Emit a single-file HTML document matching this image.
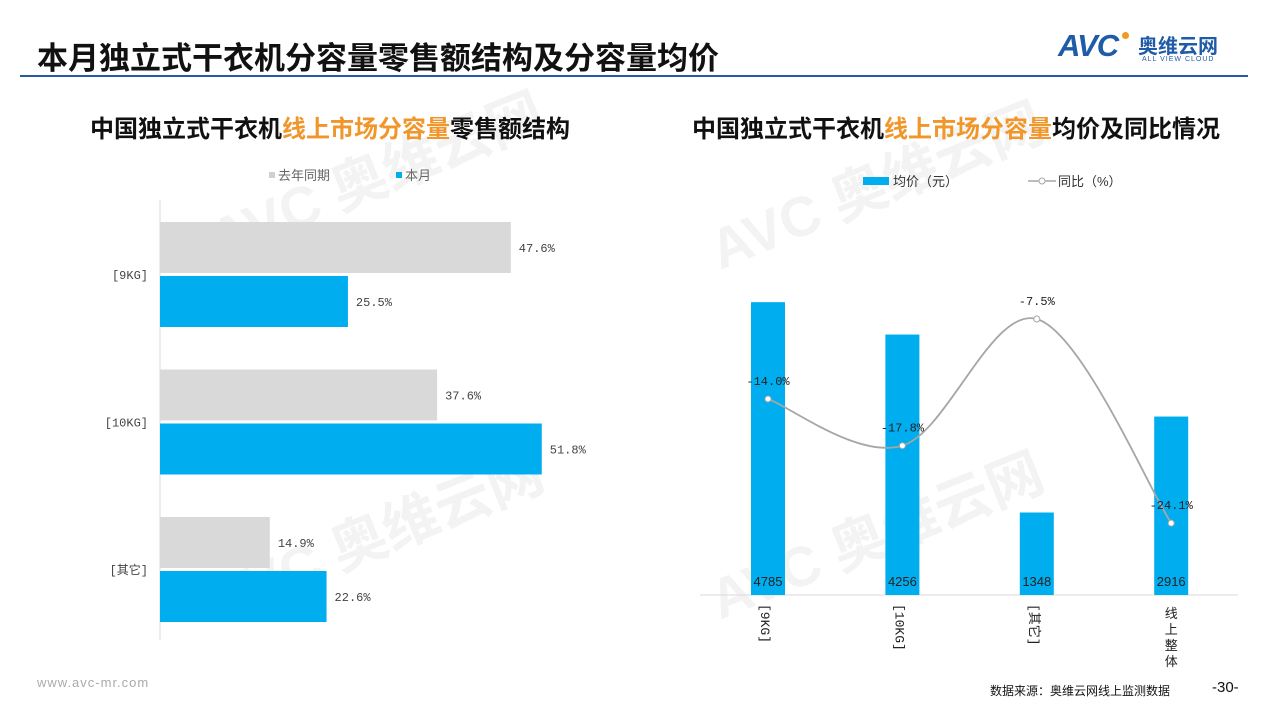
<!DOCTYPE html>
<html><head><meta charset="utf-8">
<style>
body{margin:0;width:1280px;height:720px;background:#fff;overflow:hidden;font-family:"Liberation Sans","Noto Sans CJK SC",sans-serif;position:relative}
.abs{position:absolute;z-index:2}
</style></head><body>
<div class="abs" style="left:37px;top:33px;font-size:31px;font-weight:bold;color:#111;white-space:nowrap">本月独立式干衣机分容量零售额结构及分容量均价</div>
<div class="abs" style="left:20px;top:75px;width:1228px;height:2px;background:#1f5ba6"></div>
<div class="abs" style="left:1058px;top:28px;width:190px;height:40px">
  <span style="position:absolute;left:0;top:0;font-size:31px;font-weight:bold;font-style:italic;color:#1f5ba6;letter-spacing:-1px">AVC</span><span style="position:absolute;left:64px;top:4px;width:7px;height:7px;border-radius:50%;background:#f39a1e"></span>
  <span style="position:absolute;left:80px;top:2px;font-size:20px;font-weight:bold;color:#1f5ba6;white-space:nowrap">奥维云网</span>
  <span style="position:absolute;left:84px;top:28px;font-size:7px;color:#1f5ba6;white-space:nowrap;letter-spacing:1px">ALL VIEW CLOUD</span>
</div>
<div class="abs" style="left:90px;top:109px;font-size:24px;font-weight:bold;color:#111;white-space:nowrap">中国独立式干衣机<span style="color:#f0962a">线上市场分容量</span>零售额结构</div>
<div class="abs" style="left:692px;top:109px;font-size:24px;font-weight:bold;color:#111;white-space:nowrap">中国独立式干衣机<span style="color:#f0962a">线上市场分容量</span>均价及同比情况</div>
<div class="abs" style="left:37px;top:675px;font-size:13px;color:#aaa;letter-spacing:1px">www.avc-mr.com</div>
<div class="abs" style="left:990px;top:682px;font-size:12px;color:#111">数据来源：奥维云网线上监测数据</div>
<div class="abs" style="left:1212px;top:679px;font-size:15px;color:#111">-30-</div>

<svg style="position:absolute;left:0;top:0;z-index:1" width="1280" height="720" id="chart">
  <g fill="#f3f3f3" font-weight="bold">
    <text x="220" y="260" font-size="56" transform="rotate(-22 220 260)">AVC 奥维云网</text>
    <text x="220" y="620" font-size="56" transform="rotate(-22 220 620)">AVC 奥维云网</text>
    <text x="720" y="270" font-size="56" transform="rotate(-22 720 270)">AVC 奥维云网</text>
    <text x="720" y="620" font-size="56" transform="rotate(-22 720 620)">AVC 奥维云网</text>
  </g>
</svg>
<script>
const leftCats=["[9KG]","[10KG]","[其它]"];
const lastYear=[47.6,37.6,14.9];
const thisMonth=[25.5,51.8,22.6];
const rightCats=["[9KG]","[10KG]","[其它]","线上整体"];
const avgPrice=[4785,4256,1348,2916];
const yoy=[-14.0,-17.8,-7.5,-24.1];

const NS="http://www.w3.org/2000/svg";
const svg=document.getElementById('chart');
function mk(t,a,p){const e=document.createElementNS(NS,t);for(const k in a)e.setAttribute(k,a[k]);(p||svg).appendChild(e);return e;}

// left chart
const lx=v=>160+v*7.37;
const groupTop=i=>222+i*147.5;
let ax=mk('line',{x1:160,y1:200,x2:160,y2:640,stroke:'#d9d9d9'});


let lg1=mk('rect',{x:269,y:172,width:6,height:6,fill:'#d0d0d0'});


let lt1=mk('text',{x:278,y:180,'font-size':13,fill:'#666'});lt1.textContent='去年同期';


let lg2=mk('rect',{x:396,y:172,width:6,height:6,fill:'#00aeef'});


let lt2=mk('text',{x:405,y:180,'font-size':13,fill:'#666'});lt2.textContent='本月';


leftCats.forEach((c,i)=>{
  const t=groupTop(i);
  let b1=mk('rect',{x:160,y:t,width:lx(lastYear[i])-160,height:51,fill:'#d9d9d9'});
  
  
  let v1=mk('text',{x:lx(lastYear[i])+8,y:t+30,'font-size':12,fill:'#444','font-family':'Liberation Mono, monospace'});v1.textContent=lastYear[i].toFixed(1)+'%';
  
  
  let b2=mk('rect',{x:160,y:t+54,width:lx(thisMonth[i])-160,height:51,fill:'#00aeef'});
  
  
  let v2=mk('text',{x:lx(thisMonth[i])+8,y:t+84,'font-size':12,fill:'#444','font-family':'Liberation Mono, monospace'});v2.textContent=thisMonth[i].toFixed(1)+'%';
  
  
  let cl=mk('text',{x:148,y:t+57,'font-size':12,fill:'#444','text-anchor':'end','font-family':'Liberation Mono, "Noto Sans CJK SC", monospace'});cl.textContent=c;
  
  
});

// right chart
const base=595;
const py=v=>base-v*0.0612;
const cx=i=>768+i*134.4;
const ly=v=>319+(-7.5-v)*12.3;
let xa=mk('line',{x1:700,y1:base,x2:1238,y2:base,stroke:'#d9d9d9'});


let rl1=mk('rect',{x:863,y:177,width:26,height:8,fill:'#00aeef'});


let rt1=mk('text',{x:893,y:186,'font-size':13,fill:'#333'});rt1.textContent='均价（元）';


let rl2=mk('line',{x1:1028,y1:181,x2:1056,y2:181,stroke:'#a6a6a6','stroke-width':1.5});


mk('circle',{cx:1042,cy:181,r:3,fill:'#fff',stroke:'#a6a6a6'});
let rt2=mk('text',{x:1058,y:186,'font-size':13,fill:'#333'});rt2.textContent='同比（%）';


rightCats.forEach((c,i)=>{
  let b=mk('rect',{x:cx(i)-17,y:py(avgPrice[i]),width:34,height:base-py(avgPrice[i]),fill:'#00aeef'});
  
  
  let t=mk('text',{x:cx(i),y:586,'font-size':13,fill:'#222','text-anchor':'middle'});t.textContent=avgPrice[i];
  
  
  let g=mk('g',{transform:`translate(${cx(i)-7},604) rotate(90)`});
  let xl=mk('text',{x:0,y:0,'font-size':13,fill:'#222','font-family':'Liberation Mono, "Noto Sans CJK SC", monospace'},g);
  if(c==='线上整体'){g.setAttribute('transform','');xl.setAttribute('x',cx(i));xl.setAttribute('text-anchor','middle');
    [...c].forEach((ch,k)=>{let ts=mk('tspan',{x:cx(i),y:618+k*16},xl);ts.textContent=ch;});}
  else xl.textContent=c;
  
  
});
const pts=yoy.map((v,i)=>[cx(i),ly(v)]);
let d=`M${pts[0][0]},${pts[0][1]}`;
for(let i=0;i<pts.length-1;i++){
  const p0=pts[i-1]||pts[i],p1=pts[i],p2=pts[i+1],p3=pts[i+2]||p2;
  const c1=[p1[0]+(p2[0]-p0[0])/6,p1[1]+(p2[1]-p0[1])/6];
  const c2=[p2[0]-(p3[0]-p1[0])/6,p2[1]-(p3[1]-p1[1])/6];
  d+=` C${c1[0]},${c1[1]} ${c2[0]},${c2[1]} ${p2[0]},${p2[1]}`;
}
let ln=mk('path',{d:d,fill:'none',stroke:'#a6a6a6','stroke-width':1.8});


pts.forEach((p,i)=>{
  let c=mk('circle',{cx:p[0],cy:p[1],r:3,fill:'#fff',stroke:'#a6a6a6'});
  
  
  let t=mk('text',{x:p[0],y:p[1]-14,'font-size':12,fill:'#222','text-anchor':'middle','font-family':'Liberation Mono, monospace'});t.textContent=yoy[i].toFixed(1)+'%';
  
  
});
</script>
</body></html>
